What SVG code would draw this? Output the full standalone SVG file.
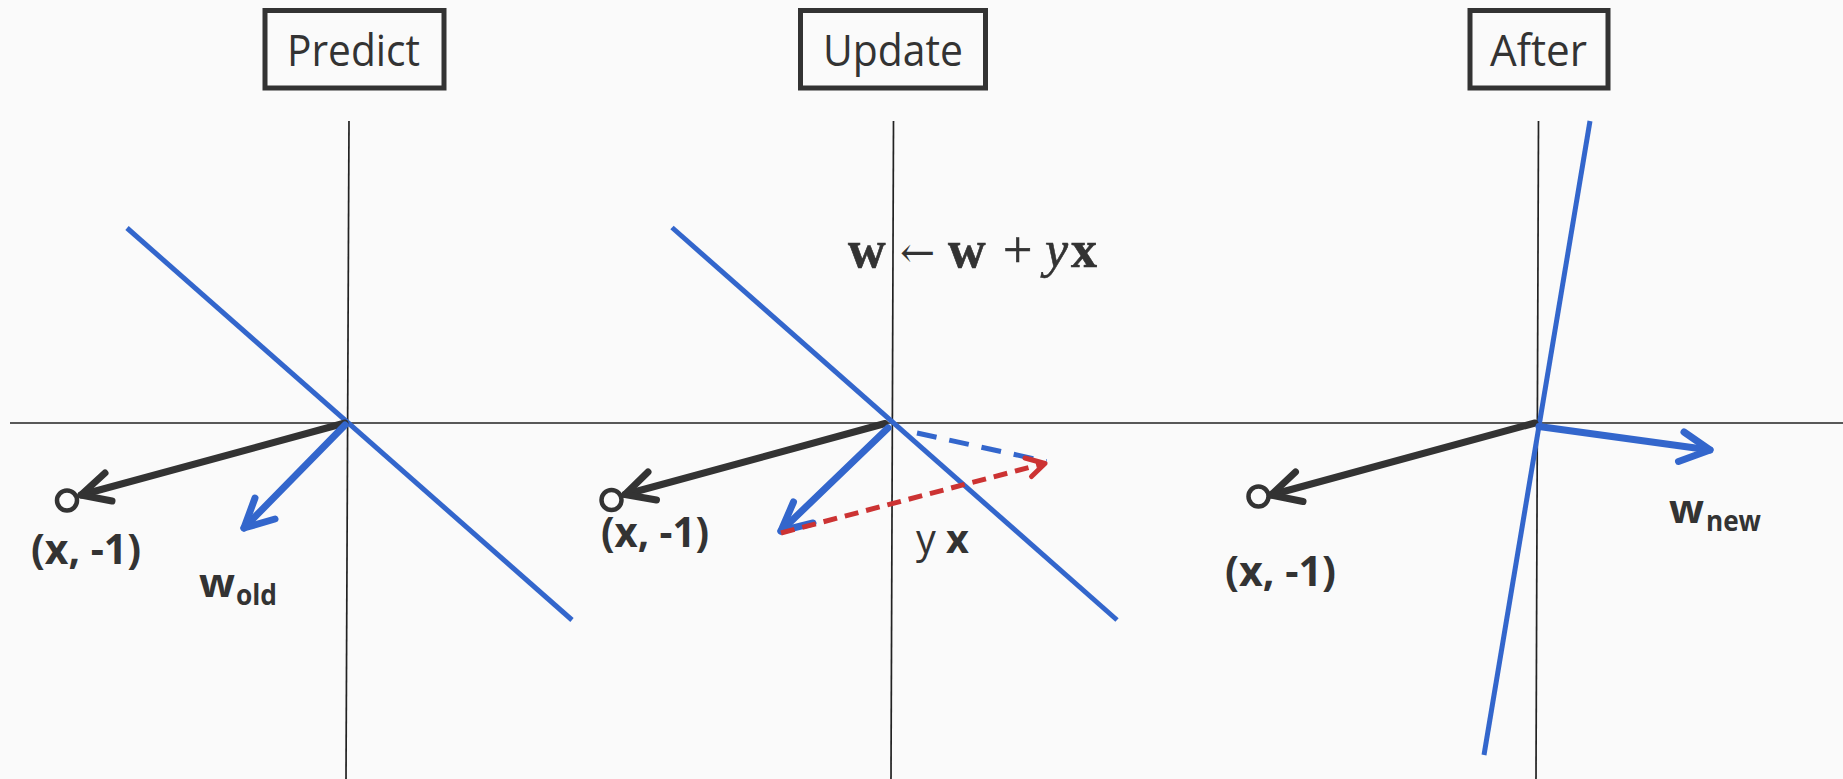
<svg xmlns="http://www.w3.org/2000/svg" width="1843" height="779" viewBox="0 0 1843 779">
<style>
.axis{stroke:#222;stroke-width:1.7;fill:none}
.bnd{stroke:#3366CC;stroke-width:5;fill:none;stroke-linecap:butt}
.blk{stroke:#333;stroke-width:7;fill:none;stroke-linecap:round;stroke-linejoin:round}
.blu{stroke:#3366CC;stroke-width:7;fill:none;stroke-linecap:round;stroke-linejoin:round}
.bdash{stroke:#3366CC;stroke-width:5;fill:none;stroke-dasharray:20 13}
.rdash{stroke:#CC3333;stroke-width:5;fill:none;stroke-dasharray:14 8}
.rhead{stroke:#CC3333;stroke-width:5;fill:none;stroke-linecap:round;stroke-linejoin:round}
.box{fill:none;stroke:#333;stroke-width:5}
.title{font-family:"Open Sans","Liberation Sans",sans-serif;font-size:43px;fill:#333}
.lbl{font-family:"Open Sans","Liberation Sans",sans-serif;font-weight:bold;fill:#333}
.pt{fill:none;stroke:#333;stroke-width:4.5}
.math{font-family:"Liberation Serif","DejaVu Serif",serif;font-size:52px;fill:#333;stroke:#333;stroke-width:0.6}
</style>
<rect width="1843" height="779" fill="#FAFAFA"/>
<g id="axes">
<line class="axis" x1="10" y1="423" x2="1843" y2="423"/>
<line class="axis" x1="349" y1="121" x2="346" y2="779"/>
<line class="axis" x1="893.5" y1="121" x2="891" y2="779"/>
<line class="axis" x1="1538.5" y1="121" x2="1536" y2="779"/>
</g>
<g id="predict">
<rect class="box" x="265" y="10.5" width="179" height="77.5"/>
<text class="title" x="287" y="66" textLength="133" lengthAdjust="spacingAndGlyphs">Predict</text>
<line class="bnd" x1="127" y1="228" x2="572" y2="620"/>
<circle class="pt" cx="67" cy="500.5" r="10"/>
<text class="lbl" x="31" y="564" font-size="41" textLength="110" lengthAdjust="spacingAndGlyphs">(x, -1)</text>
<text class="lbl" x="199" y="597" font-size="40" textLength="36" lengthAdjust="spacingAndGlyphs">w</text>
<text class="lbl" x="236" y="605" font-size="28" textLength="41" lengthAdjust="spacingAndGlyphs">old</text>
</g>
<g id="update">
<rect class="box" x="800.5" y="10.5" width="185" height="77.5"/>
<text class="title" x="823" y="66" textLength="140" lengthAdjust="spacingAndGlyphs">Update</text>
<line class="bnd" x1="672" y1="227.5" x2="1117" y2="620"/>
<circle class="pt" cx="611.5" cy="500" r="10"/>
<text class="lbl" x="601" y="547" font-size="41" textLength="108" lengthAdjust="spacingAndGlyphs">(x, -1)</text>
<text x="916" y="553" font-family="'Open Sans','Liberation Sans',sans-serif" font-size="40" fill="#333" textLength="53" lengthAdjust="spacingAndGlyphs">y <tspan font-weight="bold">x</tspan></text>
<text class="math" y="267"><tspan x="848" font-weight="bold">w</tspan><tspan x="900" font-family="'DejaVu Serif','Liberation Serif',serif" font-size="42" stroke-width="0">←</tspan><tspan x="948" font-weight="bold">w</tspan><tspan x="1003">+</tspan><tspan x="1045" font-style="italic">y</tspan><tspan x="1071" font-weight="bold">x</tspan></text>
</g>
<g id="after">
<rect class="box" x="1470" y="10.5" width="138" height="77.5"/>
<text class="title" x="1490" y="66" textLength="97" lengthAdjust="spacingAndGlyphs">After</text>
<line class="bnd" x1="1590" y1="121" x2="1484" y2="755"/>
<circle class="pt" cx="1258.5" cy="496.5" r="10"/>
<text class="lbl" x="1225" y="586" font-size="41" textLength="111" lengthAdjust="spacingAndGlyphs">(x, -1)</text>
<text class="lbl" x="1669" y="523" font-size="40" textLength="35" lengthAdjust="spacingAndGlyphs">w</text>
<text class="lbl" x="1706" y="531" font-size="28" textLength="55" lengthAdjust="spacingAndGlyphs">new</text>
</g>
<g id="connectors">
<line class="blk" x1="345" y1="423" x2="81" y2="495"/>
<polyline class="blk" points="105,473 81,495 112,501"/>
<line class="blu" x1="345" y1="425" x2="244" y2="528"/>
<polyline class="blu" points="255,498 244,528 275,519"/>
<line class="blk" x1="885" y1="423.5" x2="625" y2="494.5"/>
<polyline class="blk" points="648,472 625,494.5 656.5,500"/>
<line class="blu" x1="888" y1="428" x2="781" y2="531"/>
<polyline class="blu" points="793.5,502 781,531 813,523"/>
<line class="bdash" x1="917" y1="433" x2="1046.5" y2="461.5"/>
<line class="rdash" x1="781" y1="533" x2="1044" y2="463.5"/>
<polyline class="rhead" points="1025,458 1045,463.5 1031.5,476.5"/>
<line class="blk" x1="1535" y1="423" x2="1271" y2="495"/>
<polyline class="blk" points="1295.5,472 1271,495 1303,501.5"/>
<line class="blu" x1="1539" y1="426.5" x2="1710" y2="450"/>
<polyline class="blu" points="1684,432 1710,450 1678.5,461.5"/>
</g>
</svg>
